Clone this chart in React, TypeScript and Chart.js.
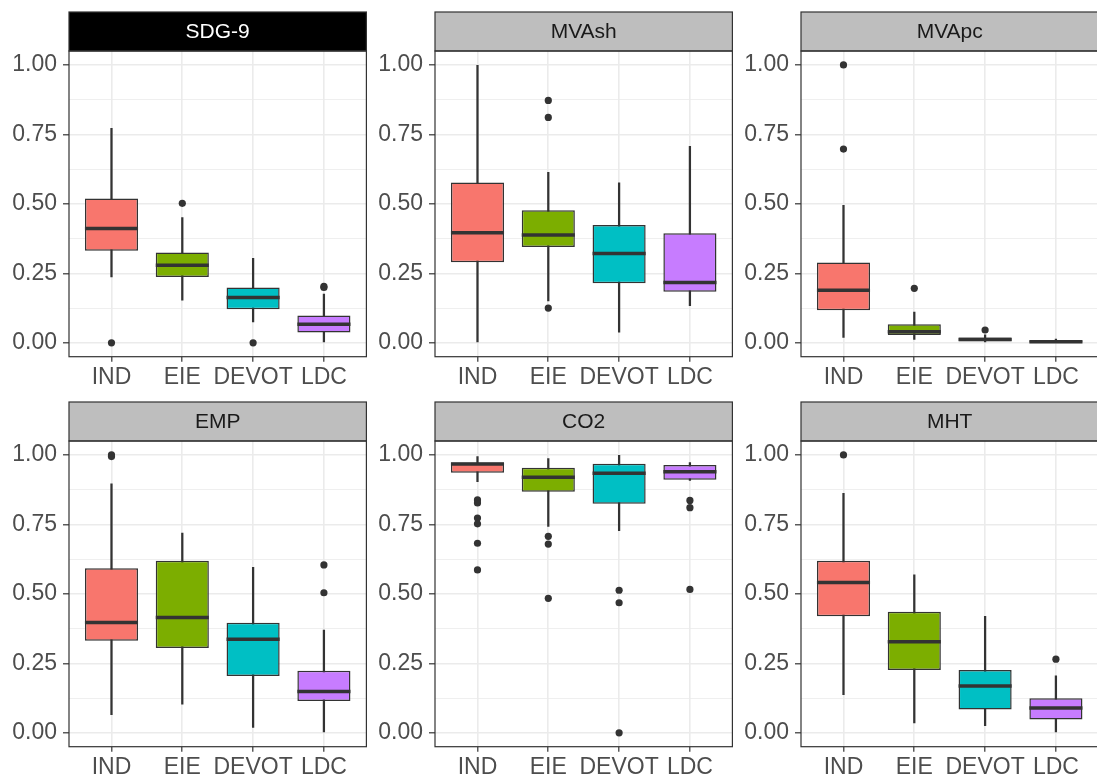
import React, { useEffect, useRef } from "react";
import { Chart, registerables } from "chart.js";

Chart.register(...registerables);

const FONT = '"Liberation Sans", Arial, Helvetica, sans-serif';

const categories = ["IND", "EIE", "DEVOT", "LDC"];
const panelTitles = ["SDG-9", "MVAsh", "MVApc", "EMP", "CO2", "MHT"];
const highlightedPanel = "SDG-9";
const yTickValues = [0, 0.125, 0.25, 0.375, 0.5, 0.625, 0.75, 0.875, 1];
const fillColors = ["#F8766D", "#7CAE00", "#00BFC4", "#C77CFF"];

// one row per panel, one value per category (IND, EIE, DEVOT, LDC)
const whiskerLow = [
  [0.237, 0.153, 0.075, 0.0],
  [0.0, 0.151, 0.038, 0.134],
  [0.019, 0.012, 0.0, 0.0],
  [0.065, 0.103, 0.019, 0.0],
  [0.904, 0.743, 0.727, 0.908],
  [0.137, 0.036, 0.026, 0.0],
];
const quartile1 = [
  [0.331, 0.237, 0.121, 0.037],
  [0.29, 0.345, 0.214, 0.184],
  [0.117, 0.028, 0.006, 0.001],
  [0.331, 0.305, 0.204, 0.114],
  [0.936, 0.867, 0.824, 0.911],
  [0.419, 0.226, 0.084, 0.048],
];
const medians = [
  [0.411, 0.279, 0.163, 0.067],
  [0.396, 0.388, 0.321, 0.217],
  [0.189, 0.04, 0.012, 0.004],
  [0.397, 0.415, 0.337, 0.149],
  [0.967, 0.92, 0.934, 0.939],
  [0.541, 0.328, 0.168, 0.089],
];
const quartile3 = [
  [0.519, 0.325, 0.199, 0.098],
  [0.577, 0.477, 0.424, 0.394],
  [0.289, 0.067, 0.019, 0.008],
  [0.592, 0.619, 0.396, 0.223],
  [0.973, 0.954, 0.968, 0.964],
  [0.619, 0.436, 0.226, 0.124],
];
const whiskerHigh = [
  [0.772, 0.451, 0.304, 0.175],
  [0.998, 0.613, 0.576, 0.707],
  [0.495, 0.111, 0.029, 0.013],
  [0.896, 0.719, 0.595, 0.37],
  [0.994, 0.987, 0.998, 0.972],
  [0.862, 0.568, 0.419, 0.205],
];
const outliers = [
  [[0], [0.502], [0], [0.199, 0.203]],
  [[], [0.872, 0.811, 0.125], [], []],
  [[1.0, 0.697], [0.196], [0.046], []],
  [[1.0, 0.994], [], [], [0.604, 0.504]],
  [[0.838, 0.827, 0.773, 0.752, 0.682, 0.586], [0.707, 0.679, 0.484], [0.513, 0.468, 0.0], [0.836, 0.81, 0.516]],
  [[1.0], [], [], [0.265]],
];

const isMajor = (v: number) => Math.abs(v * 4 - Math.round(v * 4)) < 1e-6;

const stripPlugin = {
  id: "strip",
  afterDraw(chart: any, _args: any, opts: any) {
    const { ctx, chartArea: a } = chart;
    const h = 39;
    const top = a.top - h;
    const w = a.right - a.left;
    ctx.save();
    ctx.fillStyle = opts.dark ? "#000000" : "#BEBEBE";
    ctx.fillRect(a.left, top, w, h);
    ctx.strokeStyle = "#333333";
    ctx.lineWidth = 1.2;
    ctx.strokeRect(a.left, top, w, h);
    ctx.strokeRect(a.left, a.top, w, a.bottom - a.top);
    ctx.fillStyle = opts.dark ? "#FFFFFF" : "#1A1A1A";
    ctx.font = `21px ${FONT}`;
    ctx.textAlign = "center";
    ctx.textBaseline = "middle";
    ctx.fillText(opts.title, a.left + w / 2, top + h / 2 + 1);
    ctx.restore();
  },
};

function Panel({ index, left, top }: { index: number; left: number; top: number }) {
  const ref = useRef<HTMLCanvasElement | null>(null);
  useEffect(() => {
    if (!ref.current) return;
    const title = panelTitles[index];
    const outlierPoints: { x: number; y: number }[] = [];
    outliers[index].forEach((vals, ci) => vals.forEach((v) => outlierPoints.push({ x: ci, y: v })));
    const chart = new Chart(ref.current, {
      type: "bar",
      data: {
        datasets: [
          {
            type: "scatter",
            label: "outliers",
            data: outlierPoints,
            pointRadius: 3.6,
            pointHoverRadius: 3.6,
            pointBackgroundColor: "#333333",
            pointBorderWidth: 0,
            order: 0,
          } as any,
          {
            type: "line",
            label: "median",
            data: categories.map((_, ci) => ({ x: ci, y: medians[index][ci] })),
            showLine: false,
            pointStyle: "line",
            pointRadius: (c: any) => {
              const s = c.chart.scales.x;
              return s.getPixelForValue(0.375) - s.getPixelForValue(0);
            },
            pointBorderWidth: 3.5,
            pointBorderColor: "#333333",
            order: 1,
          } as any,
          {
            type: "bar",
            label: "box",
            data: categories.map((_, ci) => ({ x: ci, y: [quartile1[index][ci], quartile3[index][ci]] })),
            backgroundColor: fillColors,
            borderColor: "#333333",
            borderWidth: 1.5,
            borderSkipped: false,
            grouped: false,
            categoryPercentage: 1,
            barPercentage: 0.75,
            order: 2,
          } as any,
          {
            type: "bar",
            label: "whisker",
            data: categories.map((_, ci) => ({ x: ci, y: [whiskerLow[index][ci], whiskerHigh[index][ci]] })),
            backgroundColor: "#333333",
            borderWidth: 0,
            grouped: false,
            barThickness: 1.6,
            order: 3,
          } as any,
        ],
      },
      options: {
        animation: false,
        responsive: false,
        events: [],
        layout: { padding: { top: 51, right: 1.5, left: 0, bottom: 0 } },
        plugins: {
          legend: { display: false },
          tooltip: { enabled: false },
          strip: { title, dark: title === highlightedPanel },
        } as any,
        scales: {
          x: {
            type: "linear",
            min: -0.6,
            max: 3.6,
            offset: false,
            afterBuildTicks: (s: any) => {
              s.ticks = categories.map((_, i) => ({ value: i }));
            },
            afterFit: (s: any) => {
              s.height = 43.3;
            },
            ticks: {
              callback: (v: any) => categories[v] ?? "",
              color: "#4D4D4D",
              font: { family: FONT, size: 23 },
              padding: 2,
              maxRotation: 0,
              autoSkip: false,
            },
            grid: {
              offset: false,
              color: "#EBEBEB",
              lineWidth: 1.6,
              tickColor: "#333333",
              tickWidth: 1.2,
              tickLength: 5,
            },
            border: { display: false },
          },
          y: {
            type: "linear",
            min: -0.05,
            max: 1.05,
            afterBuildTicks: (s: any) => {
              s.ticks = yTickValues.map((v) => ({ value: v }));
            },
            afterFit: (s: any) => {
              s.width = 69;
            },
            ticks: {
              callback: (v: any) => (isMajor(v) ? Number(v).toFixed(2) : ""),
              color: "#4D4D4D",
              font: { family: FONT, size: 23 },
              padding: 6,
              autoSkip: false,
            },
            grid: {
              color: "#EBEBEB",
              lineWidth: (c: any) => (c.tick && isMajor(c.tick.value) ? 1.6 : 0.8),
              tickColor: (c: any) => (c.tick && isMajor(c.tick.value) ? "#333333" : "rgba(0,0,0,0)"),
              tickWidth: 1.2,
              tickLength: 6,
            },
            border: { display: false },
          },
        },
      } as any,
      plugins: [stripPlugin],
    });
    return () => chart.destroy();
  }, [index]);
  return (
    <canvas
      ref={ref}
      width={370}
      height={400}
      style={{ position: "absolute", left, top, width: 370, height: 400 }}
    />
  );
}

const colLefts = [0, 366.3, 732.3];
const rowTops = [0, 389.7];

export default function App() {
  return (
    <div
      style={{
        position: "absolute",
        left: 0,
        top: 0,
        width: 1097,
        height: 778,
        overflow: "hidden",
        background: "#FFFFFF",
      }}
    >
      {panelTitles.map((t, i) => (
        <Panel key={t} index={i} left={colLefts[i % 3]} top={rowTops[Math.floor(i / 3)]} />
      ))}
    </div>
  );
}
